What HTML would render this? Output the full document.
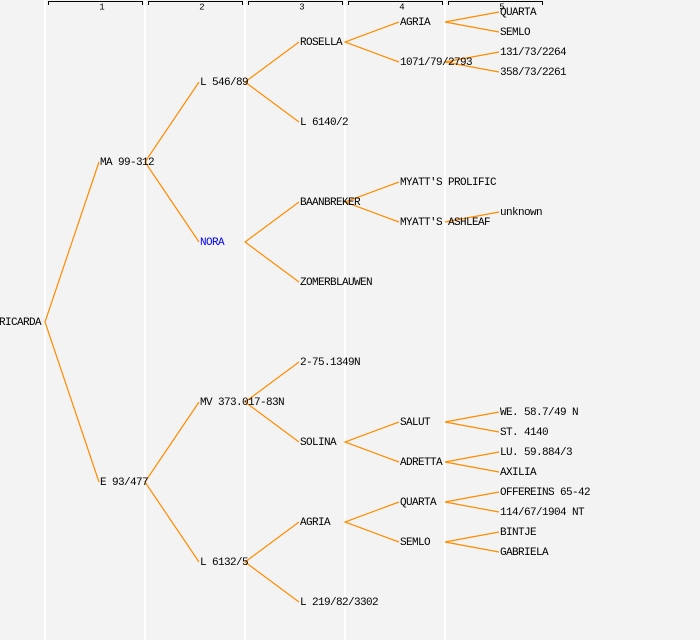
<!DOCTYPE html>
<html><head><style>
html,body{margin:0;padding:0;background:#f3f3f3;}
svg{display:block}
text{font-family:"Liberation Mono",monospace;font-size:11px;letter-spacing:-0.6px;fill:#000;dominant-baseline:middle}
</style></head><body>
<svg width="700" height="640" xmlns="http://www.w3.org/2000/svg">
<rect width="700" height="640" fill="#f3f3f3"/>
<g stroke="#fff" stroke-width="2">
<line x1="45" y1="0" x2="45" y2="640"/><line x1="145" y1="0" x2="145" y2="640"/><line x1="245" y1="0" x2="245" y2="640"/><line x1="345" y1="0" x2="345" y2="640"/><line x1="445" y1="0" x2="445" y2="640"/>
</g>
<g stroke="#000" stroke-width="1" fill="none">
<path d="M48.5,5V1.5H142.5V5"/><path d="M148.5,5V1.5H242.5V5"/><path d="M248.5,5V1.5H342.5V5"/><path d="M348.5,5V1.5H442.5V5"/><path d="M448.5,5V1.5H542.5V5"/>
</g>
<text x="102" y="7" text-anchor="middle" style="font-size:9px;letter-spacing:0">1</text>
<text x="202" y="7" text-anchor="middle" style="font-size:9px;letter-spacing:0">2</text>
<text x="302" y="7" text-anchor="middle" style="font-size:9px;letter-spacing:0">3</text>
<text x="402" y="7" text-anchor="middle" style="font-size:9px;letter-spacing:0">4</text>
<text x="502" y="7" text-anchor="middle" style="font-size:9px;letter-spacing:0">5</text>
<g stroke="#ff8c00" stroke-width="1.2" fill="none">
<path d="M99,162L45,322L99,482"/>
<path d="M199,82L145,162L199,242"/>
<path d="M199,402L145,482L199,562"/>
<path d="M299,42L245,82L299,122"/>
<path d="M299,202L245,242L299,282"/>
<path d="M299,362L245,402L299,442"/>
<path d="M299,522L245,562L299,602"/>
<path d="M399,22L345,42L399,62"/>
<path d="M399,182L345,202L399,222"/>
<path d="M399,422L345,442L399,462"/>
<path d="M399,502L345,522L399,542"/>
<path d="M499,12L445,22L499,32"/>
<path d="M499,52L445,62L499,72"/>
<path d="M499,212L445,222"/>
<path d="M499,412L445,422L499,432"/>
<path d="M499,452L445,462L499,472"/>
<path d="M499,492L445,502L499,512"/>
<path d="M499,532L445,542L499,552"/>
</g>
<text x="-1" y="322">RICARDA</text>
<text x="100" y="162">MA 99-312</text>
<text x="100" y="482">E 93/477</text>
<text x="200" y="82">L 546/89</text>
<text x="200" y="242" style="fill:#0000ff">NORA</text>
<text x="200" y="402">MV 373.017-83N</text>
<text x="200" y="562">L 6132/5</text>
<text x="300" y="42">ROSELLA</text>
<text x="300" y="122">L 6140/2</text>
<text x="300" y="202">BAANBREKER</text>
<text x="300" y="282">ZOMERBLAUWEN</text>
<text x="300" y="362">2-75.1349N</text>
<text x="300" y="442">SOLINA</text>
<text x="300" y="522">AGRIA</text>
<text x="300" y="602">L 219/82/3302</text>
<text x="400" y="22">AGRIA</text>
<text x="400" y="62">1071/79/2793</text>
<text x="400" y="182">MYATT'S PROLIFIC</text>
<text x="400" y="222">MYATT'S ASHLEAF</text>
<text x="400" y="422">SALUT</text>
<text x="400" y="462">ADRETTA</text>
<text x="400" y="502">QUARTA</text>
<text x="400" y="542">SEMLO</text>
<text x="500" y="12">QUARTA</text>
<text x="500" y="32">SEMLO</text>
<text x="500" y="52">131/73/2264</text>
<text x="500" y="72">358/73/2261</text>
<text x="500" y="212">unknown</text>
<text x="500" y="412">WE. 58.7/49 N</text>
<text x="500" y="432">ST. 4140</text>
<text x="500" y="452">LU. 59.884/3</text>
<text x="500" y="472">AXILIA</text>
<text x="500" y="492">OFFEREINS 65-42</text>
<text x="500" y="512">114/67/1904 NT</text>
<text x="500" y="532">BINTJE</text>
<text x="500" y="552">GABRIELA</text>
</svg>
</body></html>
